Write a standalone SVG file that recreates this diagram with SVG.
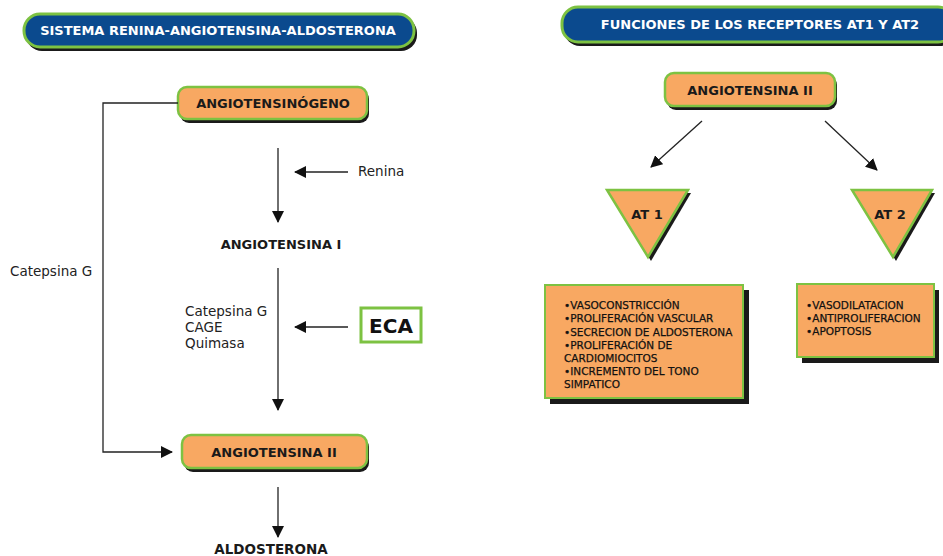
<svg xmlns="http://www.w3.org/2000/svg" width="943" height="556" viewBox="0 0 943 556">
<defs>
<marker id="ah" viewBox="0 0 12 12" refX="11" refY="6" markerWidth="12" markerHeight="12" markerUnits="userSpaceOnUse" orient="auto"><path d="M0,0 L12,6 L0,12 Z" fill="#111"/></marker>
</defs>
<style>
.hdr{fill:#0b4a8e;stroke:#7dc242;stroke-width:3}
.pill{fill:#f8a862;stroke:#7dc242;stroke-width:2.5}
.sh{fill:#1a1a1a}
.ht{font-family:"DejaVu Sans",Verdana,sans-serif;font-weight:bold;font-size:13px;fill:#fff;text-anchor:middle}
.bt{font-family:"DejaVu Sans",Verdana,sans-serif;font-weight:bold;font-size:13px;fill:#1a1a1a;text-anchor:middle}
.rt{font-family:"DejaVu Sans",Verdana,sans-serif;font-size:13.5px;fill:#222}
.lt{font-family:"DejaVu Sans",Verdana,sans-serif;font-size:10.5px;fill:#111;stroke:#111;stroke-width:0.25}
.ln{stroke:#222;stroke-width:1.3;fill:none}
</style>
<rect width="943" height="556" fill="#fff"/>

<g id="title-left">
<rect class="sh" x="26" y="17" width="391" height="34" rx="16"/>
<rect class="hdr" x="24" y="14" width="390" height="33" rx="16"/>
<text class="ht" x="218" y="35">SISTEMA RENINA-ANGIOTENSINA-ALDOSTERONA</text>
</g>

<g id="title-right">
<rect class="sh" x="564" y="10" width="392" height="36" rx="16"/>
<rect class="hdr" x="562" y="7" width="392" height="35" rx="16"/>
<text class="ht" x="760" y="29">FUNCIONES DE LOS RECEPTORES AT1 Y AT2</text>
</g>

<g id="angiotensinogeno">
<rect class="sh" x="180" y="90" width="189" height="33" rx="9"/>
<rect class="pill" x="178" y="87" width="189" height="32" rx="9"/>
<text class="bt" x="273" y="108">ANGIOTENSINÓGENO</text>
</g>

<g id="renina"><text class="rt" x="358" y="176">Renina</text></g>

<g id="angiotensina-i"><text class="bt" x="281" y="249">ANGIOTENSINA I</text></g>

<g id="enzimas">
<text class="rt" x="185" y="316">Catepsina G</text>
<text class="rt" x="185" y="332">CAGE</text>
<text class="rt" x="185" y="348">Quimasa</text>
</g>

<g id="eca">
<rect x="361" y="308" width="60" height="34" fill="#fff" stroke="#7dc242" stroke-width="3"/>
<text x="391" y="333" font-family="DejaVu Sans,Verdana,sans-serif" font-weight="bold" font-size="20" fill="#111" text-anchor="middle">ECA</text>
</g>

<g id="catepsina-g"><text class="rt" x="10" y="276">Catepsina G</text></g>

<g id="angiotensina-ii-left">
<rect class="sh" x="184" y="438" width="185" height="34" rx="9"/>
<rect class="pill" x="182" y="435" width="185" height="33" rx="9"/>
<text class="bt" x="274" y="457">ANGIOTENSINA II</text>
</g>

<g id="aldosterona"><text class="bt" x="271" y="554" style="font-size:13.5px">ALDOSTERONA</text></g>

<g id="angiotensina-ii-right">
<rect class="sh" x="667" y="76" width="170" height="34" rx="9"/>
<rect class="pill" x="665" y="73" width="170" height="33" rx="9"/>
<text class="bt" x="750" y="95">ANGIOTENSINA II</text>
</g>

<g id="at1">
<polygon class="sh" points="610,193 691,193 651,261"/>
<polygon class="pill" points="607,190 688,190 648,257"/>
<text class="bt" x="647" y="219">AT 1</text>
</g>

<g id="at2">
<polygon class="sh" points="855,193 935,193 896,261"/>
<polygon class="pill" points="852,190 932,190 893,257"/>
<text class="bt" x="890" y="219">AT 2</text>
</g>

<g id="funciones-at1">
<rect class="sh" x="550" y="290" width="199" height="114"/>
<rect x="545" y="285" width="198" height="113" fill="#f8a862" stroke="#7dc242" stroke-width="2"/>
<text class="lt" x="564" y="309">•VASOCONSTRICCIÓN</text>
<text class="lt" x="564" y="322">•PROLIFERACIÓN VASCULAR</text>
<text class="lt" x="564" y="336">•SECRECION DE ALDOSTERONA</text>
<text class="lt" x="564" y="349">•PROLIFERACIÓN DE</text>
<text class="lt" x="564" y="362">CARDIOMIOCITOS</text>
<text class="lt" x="564" y="375">•INCREMENTO DEL TONO</text>
<text class="lt" x="564" y="388">SIMPATICO</text>
</g>

<g id="funciones-at2">
<rect class="sh" x="802" y="290" width="137" height="73"/>
<rect x="797" y="284" width="137" height="73" fill="#f8a862" stroke="#7dc242" stroke-width="2"/>
<text class="lt" x="806" y="309">•VASODILATACION</text>
<text class="lt" x="806" y="322">•ANTIPROLIFERACION</text>
<text class="lt" x="806" y="335">•APOPTOSIS</text>
</g>

<g id="connectors">
<line class="ln" x1="278" y1="148" x2="278" y2="222" marker-end="url(#ah)"/>
<line class="ln" x1="348" y1="172" x2="295" y2="172" marker-end="url(#ah)"/>
<line class="ln" x1="278" y1="268" x2="278" y2="410" marker-end="url(#ah)"/>
<line class="ln" x1="348" y1="327" x2="295" y2="327" marker-end="url(#ah)"/>
<polyline class="ln" points="178,103 103,103 103,452 172,452" marker-end="url(#ah)"/>
<line class="ln" x1="278" y1="487" x2="278" y2="537" marker-end="url(#ah)"/>
<line class="ln" x1="702" y1="121" x2="651" y2="167" marker-end="url(#ah)"/>
<line class="ln" x1="825" y1="121" x2="877" y2="170" marker-end="url(#ah)"/>
</g>
</svg>
